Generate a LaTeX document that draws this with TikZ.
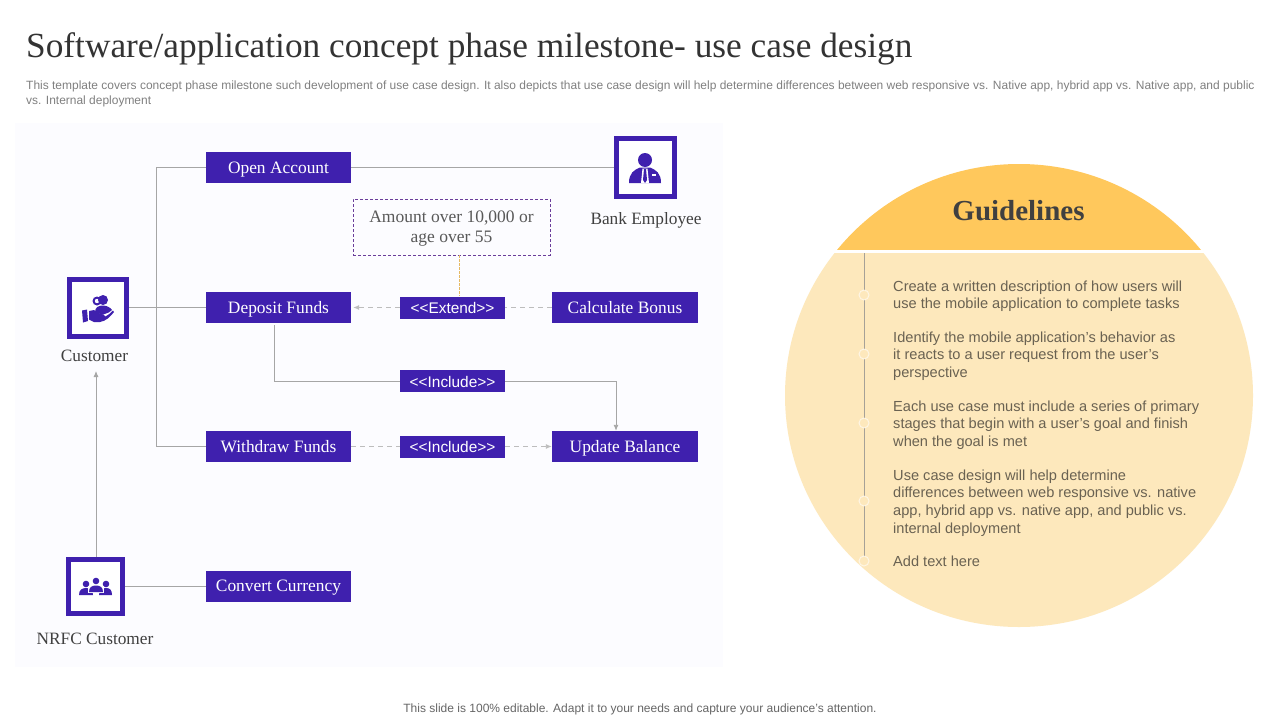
\documentclass[tikz,border=0pt]{standalone}
\usepackage{fontspec}
\setmainfont{Liberation Serif}
\setsansfont{Liberation Sans}
\usetikzlibrary{arrows.meta}
\definecolor{violetbox}{HTML}{3F20AE}
\definecolor{notedash}{HTML}{6A3D9A}
\definecolor{goldtop}{HTML}{FFC85C}
\definecolor{goldlow}{HTML}{FDE8BC}
\definecolor{panelbg}{HTML}{FCFCFF}
\definecolor{linegray}{HTML}{A6A6A6}
\definecolor{dashgray}{HTML}{BDBDBD}
\definecolor{inkgray}{HTML}{404040}
\definecolor{bodygray}{HTML}{6A6252}
\tikzset{
  usecase/.style = {fill=violetbox, text=white, minimum width=145pt, minimum height=31pt,
    inner sep=0pt, text height=13pt, text depth=2pt, font=\fontsize{17.4}{19}\selectfont},
  relbox/.style = {fill=violetbox, text=white, minimum width=105pt, minimum height=22pt,
    inner sep=0pt, text height=13pt, text depth=1pt, font=\sffamily\fontsize{15.4}{18}\selectfont},
  actor/.style = {draw=violetbox, line width=5pt, fill=white, inner sep=0pt},
  actorname/.style = {text=inkgray, inner sep=0pt, font=\fontsize{17.3}{19}\selectfont},
  conn/.style = {draw=linegray, line width=0.9pt},
  connarrow/.style = {conn, -{Latex[length=6pt,width=5pt]}},
  conndash/.style = {draw=dashgray, line width=0.9pt, dash pattern=on 5pt off 4pt},
  guide/.style = {anchor=north west, align=left, inner sep=0pt, text=bodygray,
    font=\sffamily\fontsize{14.6}{17.6}\selectfont},
  stepdot/.style = {circle, fill=goldlow, draw=white, draw opacity=0.6, line width=1pt,
    minimum size=10pt, inner sep=0pt}
}
\begin{document}
\begin{tikzpicture}[x=1pt,y=-1pt]
\useasboundingbox (0,0) rectangle (1280,720);
\fill[white] (0,0) rectangle (1280,720);

% title and footer
\node[anchor=west, inner sep=0pt, text=black!80, font=\fontsize{35.3}{38}\selectfont] (title) at (26,49)
  {Software/application concept phase milestone- use case design};
\node[anchor=north west, align=left, inner sep=0pt, text=black!50, font=\sffamily\fontsize{11.98}{14.5}\selectfont] (subtitle) at (26,81)
  {This template covers concept phase milestone such development of use case design. It also depicts that use case design will help determine differences between web responsive vs. Native app, hybrid app vs. Native app, and public\\
   vs. Internal deployment};
\node[text=black!60, inner sep=0pt, font=\sffamily\fontsize{12}{14}\selectfont] (footer) at (640,709)
  {This slide is 100\% editable. Adapt it to your needs and capture your audience's attention.};

% left panel
\fill[panelbg] (15,123) rectangle (723,667);

% use cases
\node[usecase] (openacc) at (278.5,167.5) {Open Account};
\node[usecase] (deposit) at (278.5,307.5) {Deposit Funds};
\node[usecase] (withdraw) at (278.5,446.5) {Withdraw Funds};
\node[usecase] (convert) at (278.5,586) {Convert Currency};
\node[usecase, minimum width=146pt] (bonus) at (625,307.5) {Calculate Bonus};
\node[usecase, minimum width=146pt] (update) at (625,446.5) {Update Balance};
\node[relbox] (extend) at (452.5,307.5) {<{}<Extend>{}>};
\node[relbox] (includeup) at (452.5,381) {<{}<Include>{}>};
\node[relbox] (includelow) at (452.5,446.5) {<{}<Include>{}>};
\node[draw=notedash, dash pattern=on 3pt off 2pt, align=center, text=black!65, minimum width=197pt, minimum height=56pt,
  inner sep=0pt, font=\fontsize{17.5}{20.5}\selectfont] (note) at (451.5,227) {\rule{0pt}{15pt}Amount over 10,000 or\\age over 55};

% actors
\node[actor, minimum size=57pt] (customer) at (98,307.5) {};
\node[actor, minimum size=58pt] (employee) at (645,167.5) {};
\node[actor, minimum size=54pt] (nrfc) at (95.5,586) {};
\node[actorname] (customername) at (94.5,356) {Customer};
\node[actorname] (employeename) at (646,220) {Bank Employee};
\node[actorname] (nrfcname) at (95,639) {NRFC Customer};

% connectors
\coordinate (trunk) at (156,446.5);
\draw[conn] (openacc.west) -| (trunk) -- (withdraw.west);
\draw[conn] (openacc.east) -- (employee.west);
\draw[conn] (customer.east) -- (deposit.west);
\draw[conn] (nrfc.east) -- (convert.west);
\draw[connarrow, shorten >=6pt] (nrfc.north -| 96,0) -- (96,365);
\draw[conn, shorten <=2pt] (deposit.south -| 274,0) |- (includeup.west);
\draw[connarrow] (includeup.east) -| (update.north -| 616,0);
\draw[conndash] (bonus.west) -- (extend.east);
\draw[conndash, -{Latex[length=6pt,width=5pt]}, shorten >=2pt] (extend.west) -- (deposit.east);
\draw[conndash] (withdraw.east) -- (includelow.west);
\draw[conndash, -{Latex[length=6pt,width=5pt]}] (includelow.east) -- (update.west);
\draw[draw=goldtop!80!gray, line width=1pt, dash pattern=on 3pt off 1pt] (note.south -| 459,0) -- (extend.north -| 459,0);

% icons
\begin{scope}[violetbox]
  % hand and person
  \fill (97,301) circle (4.5);
  \fill[white] (97,301) circle (2.2);
  \fill (103,300) circle (5);
  \fill (95,312) .. controls (95,307) and (99,305.5) .. (103,305.5) .. controls (107,305.5) and (111,308) .. (112,310) .. controls (108,314) and (102,316) .. (95,312) -- cycle;
  \fill (82,310.5) -- (87,309.5) -- (88,321) -- (83,322.5) -- cycle;
  \fill (89,311) -- (94,310) .. controls (97,313) and (100,314) .. (104,314.5) -- (105,316.5) .. controls (108,315.5) and (111,312.5) .. (113,310.5) -- (114,312) .. controls (110,317) and (106,321) .. (100,322) -- (94,322) -- (89,319.5) -- cycle;
  % employee
  \fill (645,160) ellipse (7 and 7);
  \fill (629,183) .. controls (629,173) and (634,170) .. (640,167.5) -- (650,167.5) .. controls (656,170) and (661,173) .. (661,183) -- cycle;
  \fill[white] (642.5,168.5) -- (647.5,168.5) -- (649,183) -- (641,183) -- cycle;
  \fill (644,169) -- (646,169) -- (647,180) -- (645,183) -- (643,180) -- cycle;
  \fill[white] (652,174) rectangle (656,175.5);
  % three people
  \foreach \px/\py in {86/584, 106/584, 96/581}
    \fill (\px,\py) circle (3.3);
  \fill (79,595) .. controls (79,590) and (82,588) .. (86,588) .. controls (90,588) and (93,590) .. (93,595) -- cycle;
  \fill (99,595) .. controls (99,590) and (102,588) .. (106,588) .. controls (110,588) and (112,590) .. (112,595) -- cycle;
  \fill[white] (88,586) rectangle (104,593);
  \fill (89,592) .. controls (89,587) and (92,585.5) .. (96,585.5) .. controls (100,585.5) and (103,587) .. (103,592) -- cycle;
\end{scope}

% guidelines circle
\begin{scope}
  \clip (700,100) rectangle (1300,249);
  \fill[goldtop] (1019,395.5) ellipse (234 and 231.5);
\end{scope}
\begin{scope}
  \clip (700,253) rectangle (1300,700);
  \fill[goldlow] (1019,395.5) ellipse (234 and 231.5);
\end{scope}
\node[text=inkgray, inner sep=0pt, font=\bfseries\fontsize{29}{32}\selectfont] (guidetitle) at (1018.5,210.5) {Guidelines};

% timeline
\coordinate (linetop) at (864,253);
\coordinate (linelow) at (864,562);
\draw[draw=bodygray!60, line width=0.9pt] (linetop) -- (linelow);
\foreach \dy in {295,354,423,501,561}
  \node[stepdot] at (864,\dy) {};

\node[guide] (gone) at (893,280.5) {Create a written description of how users will\\use the mobile application to complete tasks};
\node[guide] (gtwo) at (893,331.5) {Identify the mobile application's behavior as\\it reacts to a user request from the user's\\perspective};
\node[guide] (gthree) at (893,400.5) {Each use case must include a series of primary\\stages that begin with a user's goal and finish\\when the goal is met};
\node[guide] (gfour) at (893,469.5) {Use case design will help determine\\differences between web responsive vs. native\\app, hybrid app vs. native app, and public vs.\\internal deployment};
\node[guide] (gfive) at (893,555.5) {Add text here};
\end{tikzpicture}
\end{document}
